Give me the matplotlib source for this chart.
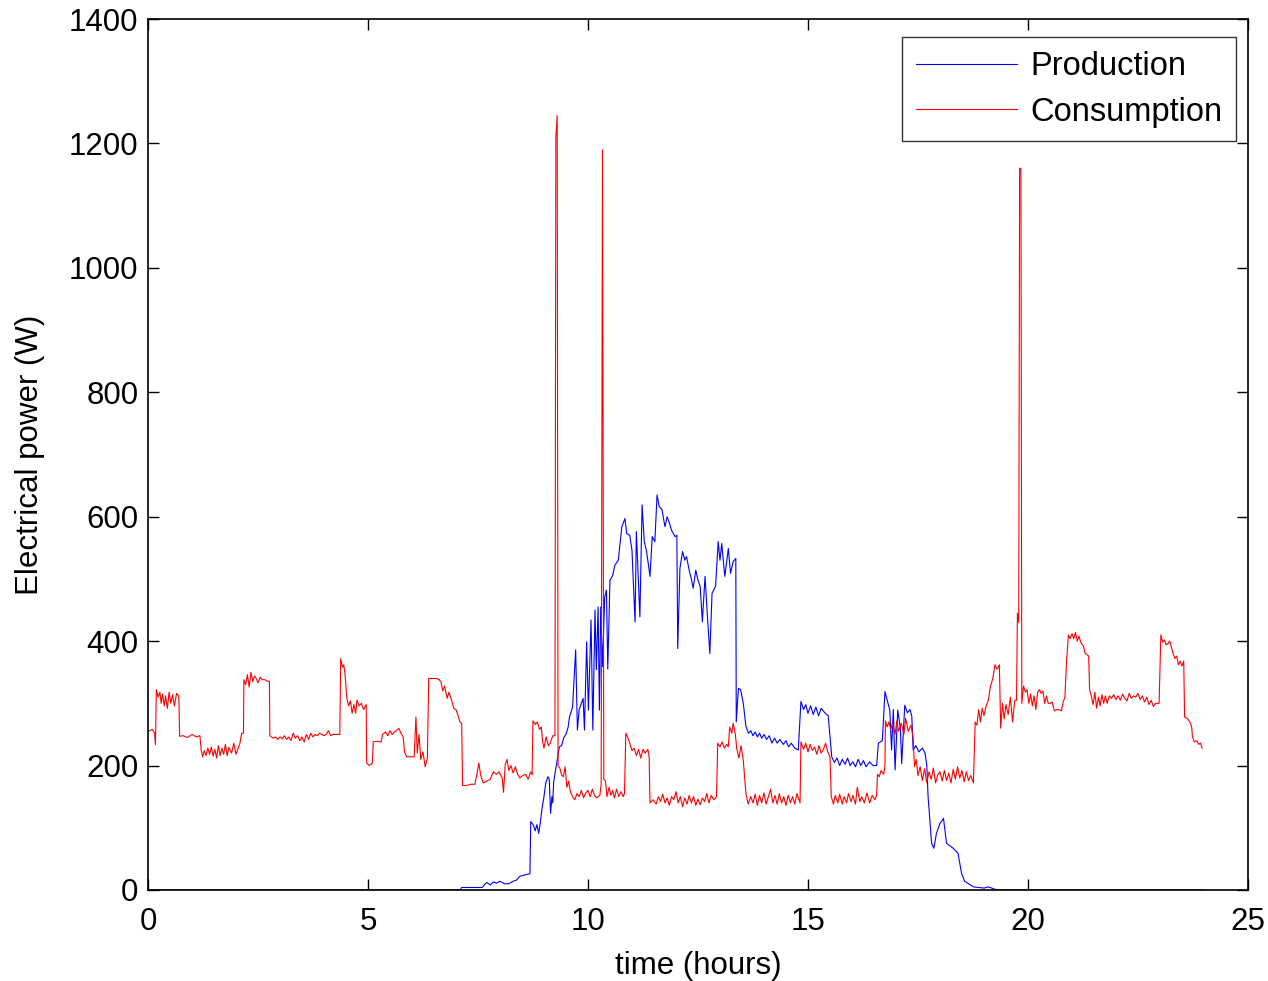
import matplotlib
matplotlib.use('Agg')
import matplotlib.pyplot as plt

# consumption (W) vs time (h)
cons_t = [0.00, 0.10, 0.15, 0.17, 0.19, 0.23, 0.27, 0.30, 0.33, 0.37, 0.40, 0.44, 0.48, 0.52, 0.56, 0.60, 0.65, 0.70,
          0.72, 0.80, 0.90, 1.00, 1.10, 1.18, 1.21, 1.24, 1.28, 1.32, 1.36, 1.40, 1.44, 1.48, 1.52, 1.56, 1.60, 1.64,
          1.68, 1.72, 1.76, 1.80, 1.84, 1.90, 1.95, 2.00, 2.06, 2.09, 2.13, 2.17, 2.18, 2.22, 2.26, 2.30, 2.34, 2.38,
          2.42, 2.46, 2.50, 2.55, 2.60, 2.66, 2.70, 2.76, 2.77, 2.85, 2.90, 2.95, 3.00, 3.05, 3.10, 3.15, 3.20, 3.25,
          3.30, 3.35, 3.40, 3.45, 3.50, 3.55, 3.60, 3.65, 3.70, 3.75, 3.80, 3.85, 3.90, 3.95, 4.00, 4.05, 4.10, 4.15,
          4.20, 4.36, 4.38, 4.42, 4.45, 4.48, 4.52, 4.56, 4.60, 4.64, 4.68, 4.72, 4.75, 4.80, 4.85, 4.90, 4.96, 4.97,
          5.03, 5.10, 5.12, 5.20, 5.30, 5.33, 5.40, 5.45, 5.50, 5.55, 5.60, 5.65, 5.70, 5.75, 5.80, 5.83, 5.88, 5.95,
          6.05, 6.09, 6.12, 6.16, 6.20, 6.25, 6.30, 6.35, 6.38, 6.45, 6.55, 6.62, 6.66, 6.70, 6.74, 6.80, 6.84, 6.90,
          6.95, 7.00, 7.05, 7.09, 7.13, 7.15, 7.25, 7.35, 7.43, 7.48, 7.52, 7.56, 7.62, 7.70, 7.78, 7.85, 7.92, 7.98,
          8.05, 8.08, 8.12, 8.16, 8.20, 8.25, 8.30, 8.35, 8.40, 8.45, 8.52, 8.58, 8.64, 8.70, 8.73, 8.75, 8.80, 8.85,
          8.90, 8.94, 8.97, 9.00, 9.05, 9.10, 9.14, 9.20, 9.25, 9.27, 9.30, 9.32, 9.36, 9.40, 9.44, 9.48, 9.52, 9.56,
          9.60, 9.65, 9.70, 9.75, 9.80, 9.85, 9.90, 9.95, 10.00, 10.05, 10.10, 10.15, 10.20, 10.27, 10.30, 10.33,
          10.36, 10.40, 10.43, 10.48, 10.52, 10.56, 10.60, 10.65, 10.70, 10.75, 10.80, 10.83, 10.86, 10.90, 10.95,
          11.00, 11.05, 11.10, 11.15, 11.20, 11.25, 11.30, 11.36, 11.39, 11.41, 11.48, 11.55, 11.60, 11.65, 11.70,
          11.75, 11.80, 11.85, 11.90, 11.95, 12.00, 12.05, 12.10, 12.15, 12.20, 12.25, 12.30, 12.35, 12.40, 12.45,
          12.50, 12.55, 12.60, 12.65, 12.70, 12.75, 12.80, 12.86, 12.92, 12.95, 13.00, 13.05, 13.10, 13.15, 13.19,
          13.22, 13.27, 13.30, 13.35, 13.38, 13.43, 13.48, 13.53, 13.59, 13.64, 13.70, 13.75, 13.80, 13.85, 13.90,
          13.95, 14.00, 14.05, 14.10, 14.15, 14.20, 14.25, 14.30, 14.35, 14.40, 14.45, 14.50, 14.55, 14.60, 14.65,
          14.70, 14.75, 14.82, 14.84, 14.90, 14.95, 15.00, 15.05, 15.10, 15.15, 15.20, 15.25, 15.30, 15.35, 15.40,
          15.45, 15.50, 15.53, 15.58, 15.62, 15.68, 15.72, 15.78, 15.82, 15.88, 15.92, 15.98, 16.02, 16.08, 16.12,
          16.18, 16.22, 16.28, 16.34, 16.40, 16.46, 16.52, 16.56, 16.58, 16.62, 16.66, 16.72, 16.75, 16.76, 16.80,
          16.84, 16.88, 16.92, 16.98, 17.02, 17.06, 17.12, 17.18, 17.22, 17.28, 17.34, 17.39, 17.42, 17.46, 17.50,
          17.55, 17.60, 17.65, 17.70, 17.75, 17.80, 17.85, 17.90, 17.95, 18.00, 18.05, 18.10, 18.15, 18.20, 18.25,
          18.30, 18.35, 18.40, 18.45, 18.50, 18.55, 18.60, 18.65, 18.70, 18.76, 18.80, 18.84, 18.88, 18.92, 18.96,
          19.00, 19.05, 19.10, 19.14, 19.20, 19.25, 19.30, 19.35, 19.38, 19.42, 19.46, 19.50, 19.55, 19.60, 19.65,
          19.70, 19.74, 19.76, 19.79, 19.81, 19.84, 19.86, 19.90, 19.94, 19.98, 20.02, 20.06, 20.10, 20.14, 20.18,
          20.22, 20.26, 20.30, 20.34, 20.38, 20.42, 20.46, 20.50, 20.55, 20.60, 20.65, 20.70, 20.76, 20.80, 20.84,
          20.88, 20.92, 20.96, 21.00, 21.04, 21.08, 21.12, 21.16, 21.20, 21.26, 21.30, 21.35, 21.38, 21.40, 21.44,
          21.48, 21.52, 21.56, 21.60, 21.64, 21.68, 21.72, 21.76, 21.80, 21.85, 21.90, 21.95, 22.00, 22.05, 22.10,
          22.15, 22.20, 22.25, 22.30, 22.35, 22.40, 22.45, 22.50, 22.55, 22.60, 22.65, 22.70, 22.75, 22.80, 22.85,
          22.90, 22.98, 23.02, 23.06, 23.10, 23.14, 23.18, 23.22, 23.26, 23.30, 23.34, 23.38, 23.42, 23.46, 23.50,
          23.54, 23.56, 23.62, 23.68, 23.72, 23.74, 23.78, 23.84, 23.88, 23.92, 23.96]
cons_w = [255, 258, 252, 234, 322, 310, 318, 300, 315, 296, 312, 292, 318, 300, 314, 296, 316, 312,
          247, 248, 245, 250, 246, 248, 225, 214, 224, 216, 228, 218, 230, 215, 226, 212, 232, 216,
          228, 218, 234, 216, 229, 220, 236, 218, 230, 236, 252, 252, 338, 330, 346, 326, 350, 335,
          344, 340, 333, 342, 338, 338, 336, 335, 248, 244, 246, 242, 246, 243, 248, 242, 246, 240,
          252, 244, 248, 240, 246, 238, 250, 242, 252, 246, 250, 248, 252, 250, 248, 250, 256, 248,
          250, 250, 372, 358, 362, 346, 308, 296, 304, 284, 298, 284, 305, 296, 300, 290, 298, 204,
          200, 204, 238, 239, 238, 250, 254, 248, 256, 250, 254, 256, 260, 252, 246, 222, 214, 214,
          214, 278, 220, 250, 210, 222, 198, 212, 340, 340, 340, 338, 334, 320, 328, 308, 318, 305,
          292, 290, 280, 270, 268, 168, 168, 170, 170, 188, 204, 185, 172, 175, 178, 190, 186, 190,
          180, 157, 202, 210, 192, 200, 188, 198, 186, 180, 184, 186, 178, 190, 185, 272, 266, 270,
          258, 262, 238, 228, 246, 232, 236, 248, 248, 1210, 1245, 200, 196, 185, 182, 198, 165, 175,
          158, 150, 145, 155, 150, 160, 148, 156, 160, 150, 162, 152, 148, 152, 170, 1190,
          178, 175, 150, 165, 152, 160, 148, 162, 150, 158, 150, 155, 252, 246, 236,
          224, 228, 216, 226, 212, 226, 220, 226, 214, 140, 145, 138, 150, 142, 154,
          140, 148, 136, 150, 145, 158, 140, 150, 134, 148, 138, 152, 140, 150, 136,
          146, 137, 148, 142, 155, 140, 152, 145, 150, 236, 230, 238, 228, 234, 230,
          262, 252, 268, 250, 228, 212, 232, 208, 155, 138, 150, 140, 154, 136, 152,
          140, 156, 138, 150, 162, 140, 152, 138, 155, 140, 150, 136, 152, 140, 150,
          138, 155, 140, 238, 226, 236, 222, 234, 224, 230, 218, 232, 220, 226, 236,
          222, 214, 150, 138, 152, 140, 154, 138, 150, 140, 155, 142, 152, 138, 165,
          142, 150, 140, 156, 140, 152, 145, 152, 186, 182, 192, 186, 200, 272, 262,
          270, 258, 268, 250, 272, 255, 268, 250, 276, 255, 265, 245, 198, 210, 184,
          198, 176, 195, 172, 190, 178, 196, 172, 185, 190, 175, 192, 176, 188, 172,
          194, 178, 198, 180, 192, 174, 190, 176, 184, 172, 270, 265, 290, 270, 292,
          280, 296, 305, 325, 340, 362, 355, 362, 260, 300, 275, 298, 282, 310, 270,
          305, 305, 445, 430, 1160, 1160, 300, 328, 318, 322, 300, 315, 296, 312, 290,
          318, 322, 316, 320, 300, 312, 300, 300, 302, 288, 290, 290, 288, 302, 310,
          372, 410, 404, 412, 404, 414, 400, 408, 398, 392, 380, 378, 376, 322, 312,
          298, 318, 292, 310, 296, 314, 300, 312, 300, 312, 308, 314, 306, 312, 305,
          315, 308, 304, 316, 308, 312, 310, 316, 306, 312, 302, 310, 298, 305, 295,
          300, 300, 410, 398, 402, 394, 396, 400, 390, 380, 372, 376, 362, 368, 360,
          368, 278, 276, 270, 262, 246, 238, 240, 234, 236, 228]

# PV production (W) vs time (h)
prod_t = [0.00, 7.10, 7.13, 7.60, 7.65, 7.70, 7.78, 7.85, 7.92, 8.00, 8.10, 8.20, 8.30, 8.38, 8.45, 8.55, 8.68,
          8.70, 8.76, 8.80, 8.84, 8.88, 8.92, 8.95, 9.00, 9.04, 9.09, 9.12, 9.15, 9.18, 9.20, 9.22, 9.28, 9.35,
          9.40, 9.45, 9.50, 9.55, 9.58, 9.65, 9.72, 9.76, 9.80, 9.85, 9.89, 9.92, 9.97, 10.01, 10.07, 10.11,
          10.16, 10.19, 10.23, 10.26, 10.29, 10.33, 10.38, 10.42, 10.45, 10.50, 10.56, 10.61, 10.69, 10.77,
          10.84, 10.88, 10.95, 11.00, 11.07, 11.10, 11.18, 11.23, 11.28, 11.33, 11.41, 11.46, 11.52, 11.57,
          11.62, 11.68, 11.75, 11.80, 11.85, 11.90, 11.98, 12.02, 12.04, 12.09, 12.15, 12.20, 12.24, 12.30,
          12.35, 12.39, 12.45, 12.50, 12.55, 12.60, 12.66, 12.72, 12.77, 12.82, 12.90, 12.96, 13.00, 13.04,
          13.11, 13.19, 13.24, 13.30, 13.36, 13.37, 13.42, 13.47, 13.53, 13.59, 13.65, 13.70, 13.75, 13.80,
          13.85, 13.90, 13.95, 14.00, 14.06, 14.12, 14.18, 14.24, 14.30, 14.36, 14.44, 14.50, 14.56, 14.62,
          14.70, 14.78, 14.84, 14.90, 14.95, 15.00, 15.06, 15.12, 15.18, 15.24, 15.30, 15.38, 15.46, 15.54,
          15.60, 15.66, 15.72, 15.78, 15.84, 15.90, 15.96, 16.02, 16.08, 16.14, 16.20, 16.26, 16.32, 16.40,
          16.48, 16.56, 16.60, 16.69, 16.75, 16.80, 16.86, 16.90, 16.94, 16.98, 17.04, 17.10, 17.13, 17.20,
          17.26, 17.32, 17.36, 17.39, 17.45, 17.52, 17.60, 17.66, 17.70, 17.73, 17.81, 17.86, 17.92, 18.00,
          18.08, 18.15, 18.30, 18.41, 18.49, 18.56, 18.76, 19.00, 19.10, 19.29, 23.96]
prod_w = [0, 0, 4, 4, 9, 12, 8, 13, 11, 14, 10, 10, 14, 16, 22, 24, 26,
          110, 104, 95, 105, 91, 110, 128, 150, 172, 182, 178, 123, 150, 140, 174, 200, 230,
          232, 245, 250, 262, 278, 294, 386, 257, 290, 300, 308, 257, 399, 289, 434, 257,
          450, 354, 455, 289, 455, 359, 471, 482, 355, 498, 505, 522, 530, 584,
          597, 573, 570, 546, 431, 576, 439, 619, 560, 545, 504, 568, 560, 635,
          616, 612, 584, 600, 590, 578, 568, 570, 388, 517, 544, 530, 536, 514,
          500, 485, 514, 498, 488, 431, 504, 434, 380, 477, 488, 560, 530, 557,
          504, 549, 509, 528, 533, 270, 324, 322, 300, 263, 252, 256, 248, 254,
          246, 252, 244, 250, 242, 248, 236, 244, 236, 242, 234, 240, 230, 236,
          228, 225, 303, 290, 298, 284, 296, 282, 294, 280, 292, 285, 280, 214,
          205, 212, 200, 210, 202, 212, 200, 206, 198, 210, 200, 208, 198, 206,
          200, 200, 236, 240, 319, 305, 289, 225, 290, 193, 289, 260, 203, 297,
          285, 290, 279, 225, 232, 222, 228, 220, 201, 150, 75, 67, 91, 107,
          115, 75, 67, 59, 27, 14, 5, 3, 5, 0, 0]

x_ticks = [0, 5, 10, 15, 20, 25]
y_ticks = [0, 200, 400, 600, 800, 1000, 1200, 1400]

plt.rcParams['font.family'] = ['Liberation Sans', 'DejaVu Sans']

fig = plt.figure(figsize=(12.68, 9.81), dpi=100)
ax = fig.add_axes([0.1167, 0.0928, 0.8675, 0.8878])

ax.plot(prod_t, prod_w, color='#0000ff', lw=0.8, label='Production')
ax.plot(cons_t, cons_w, color='#ff0000', lw=0.8, label='Consumption')

ax.set_xlim(0, 25)
ax.set_ylim(0, 1400)
ax.set_xticks(x_ticks)
ax.set_yticks(y_ticks)
ax.tick_params(direction='in', top=True, right=True, length=8, width=1, labelsize=22.5)
ax.tick_params(axis='x', pad=12)
ax.tick_params(axis='y', pad=7)
for s in ax.spines.values():
    s.set_linewidth(1.2)
ax.set_xlabel('time (hours)', fontsize=22.5, labelpad=10)
ax.set_ylabel('Electrical power (W)', fontsize=22.5, labelpad=17)

leg = ax.legend(loc='upper right', bbox_to_anchor=(0.989, 0.979), fontsize=23.5, frameon=True,
                fancybox=False, edgecolor='black', handlelength=3.1, borderaxespad=0,
                borderpad=0.42, labelspacing=0.45, handletextpad=0.4)
leg.get_frame().set_linewidth(1.0)

fig.savefig('out.png', dpi=100)
